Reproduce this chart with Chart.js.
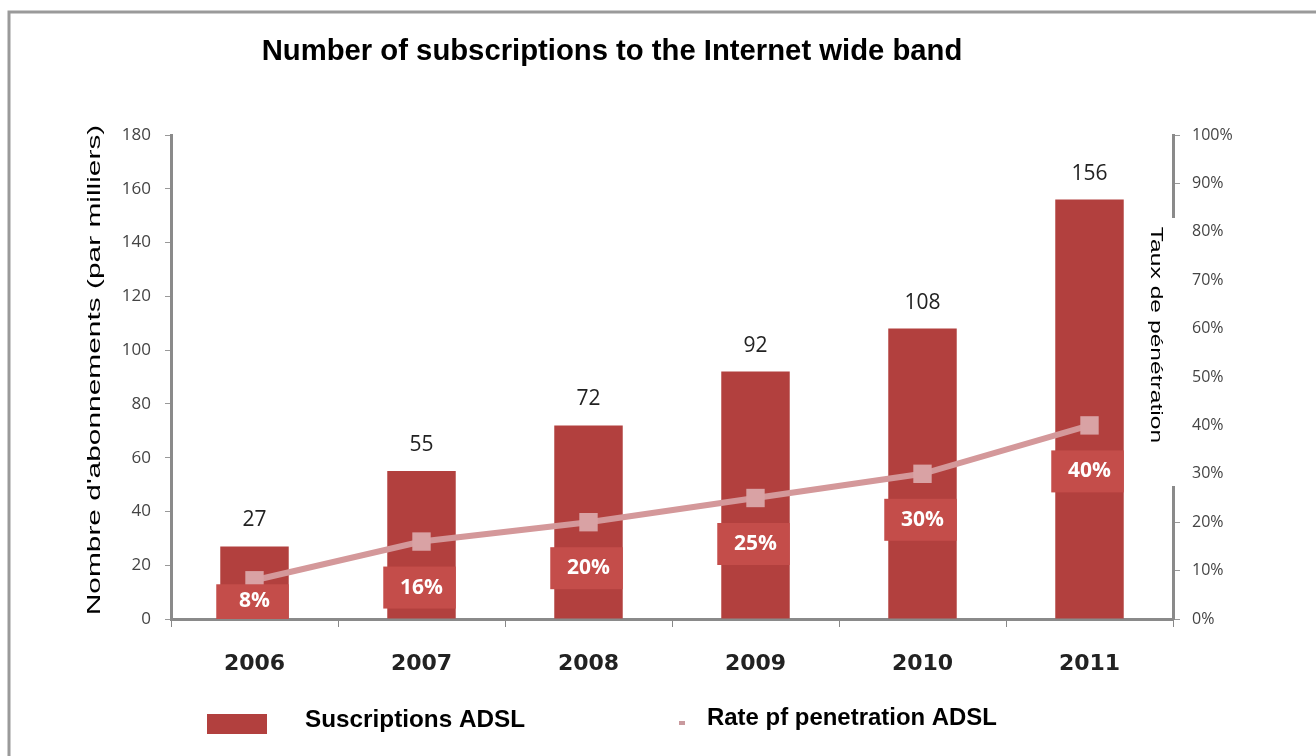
<!DOCTYPE html>
<html>
<head>
<meta charset="utf-8">
<script src="https://cdn.jsdelivr.net/npm/chart.js@4.4.1/dist/chart.umd.min.js"></script>
<style>
html,body{margin:0;padding:0;background:#fff;}
#wrap{position:relative;width:1316px;height:756px;}
</style>
</head>
<body>
<div id="wrap"><canvas id="c" width="1316" height="756"></canvas></div>
<script>
const categories = ['2006','2007','2008','2009','2010','2011'];
const subscriptions = [27, 55, 72, 92, 108, 156];
const penetration = [8, 16, 20, 25, 30, 40];
const leftTicks = [0,20,40,60,80,100,120,140,160,180];
const rightTicks = [0,10,20,30,40,50,60,70,80,90,100];
const titleText = 'Number of subscriptions to the Internet wide band';
const leftTitle = "Nombre d'abonnements (par milliers)";
const rightTitle = 'Taux de pénétration';
const legendBar = 'Suscriptions ADSL';
const legendLine = 'Rate pf penetration ADSL';

const BAR = '#b2403e';
const BOX = '#c44d4a';
const LINE = '#d4989a';
const MARK = '#d9a2a4';

function stretchedText(ctx, text, x, y, font, sx, sy, rot, align, color){
  ctx.save();
  ctx.translate(x, y);
  if (rot) ctx.rotate(rot);
  ctx.scale(sx, sy);
  ctx.font = font;
  ctx.fillStyle = color;
  ctx.textAlign = align || 'center';
  ctx.textBaseline = 'middle';
  ctx.fillText(text, 0, 0);
  ctx.restore();
}

const decor = {
  id: 'decor',
  beforeDraw(chart){
    const ctx = chart.ctx;
    ctx.save();
    ctx.fillStyle = '#fff';
    ctx.fillRect(0,0,chart.width,chart.height);
    ctx.strokeStyle = '#9a9a9a';
    ctx.lineWidth = 3;
    ctx.beginPath();
    ctx.moveTo(9, chart.height);
    ctx.lineTo(9, 12);
    ctx.lineTo(chart.width, 12);
    ctx.stroke();
    ctx.restore();
  },
  afterDatasetsDraw(chart){
    const ctx = chart.ctx;
    const barMeta = chart.getDatasetMeta(0);
    const lineMeta = chart.getDatasetMeta(1);
    const base = chart.scales.y.getPixelForValue(0);
    ctx.save();
    barMeta.data.forEach((bar, i) => {
      ctx.font = '21px "Open Sans"';
      ctx.fillStyle = '#222';
      ctx.textAlign = 'center';
      ctx.textBaseline = 'middle';
      ctx.fillText(String(subscriptions[i]), bar.x, bar.y - 26);
    });
    lineMeta.data.forEach((pt, i) => {
      const bar = barMeta.data[i];
      const ty = Math.min(pt.y + 46, base - 18);
      const w = bar.width + 4;
      const top = Math.max(ty - 21, pt.y + 4);
      const bottom = Math.min(ty + 21, base);
      ctx.fillStyle = BOX;
      ctx.fillRect(bar.x - w/2 - 2, top, w, bottom - top);
      ctx.font = 'bold 21px "Open Sans"';
      ctx.fillStyle = '#fff';
      ctx.textAlign = 'center';
      ctx.textBaseline = 'middle';
      ctx.fillText(penetration[i] + '%', bar.x, ty);
    });
    ctx.restore();
  },
  afterDraw(chart){
    const ctx = chart.ctx;
    const ca = chart.chartArea;
    stretchedText(ctx, titleText, 612, 52, 'bold 22px "Liberation Sans"', 1.33, 1.3, 0, 'center', '#000');
    stretchedText(ctx, leftTitle, 95, 370, '18px "Liberation Sans"', 1.66, 1, -Math.PI/2, 'center', '#000');
    ctx.save();
    ctx.fillStyle = '#fff';
    ctx.fillRect(ca.right - 25, 218, 36, 268);
    ctx.restore();
    stretchedText(ctx, rightTitle, ca.right - 17, 335, '17px "Liberation Sans"', 1.45, 1, Math.PI/2, 'center', '#000');
    ctx.save();
    ctx.fillStyle = BAR;
    ctx.fillRect(207, 714, 60, 20);
    ctx.fillStyle = '#c99a9e';
    ctx.fillRect(679, 721, 6, 4);
    ctx.restore();
    stretchedText(ctx, legendBar, 305, 721, 'bold 18px "Liberation Sans"', 1.35, 1.3, 0, 'left', '#000');
    stretchedText(ctx, legendLine, 707, 719, 'bold 18px "Liberation Sans"', 1.33, 1.3, 0, 'left', '#000');
  }
};

new Chart(document.getElementById('c'), {
  data: {
    labels: categories,
    datasets: [
      {
        type: 'bar',
        label: legendBar,
        data: subscriptions,
        backgroundColor: BAR,
        yAxisID: 'y',
        barPercentage: 0.41,
        categoryPercentage: 1,
        order: 2
      },
      {
        type: 'line',
        label: legendLine,
        data: penetration,
        yAxisID: 'y1',
        borderColor: LINE,
        borderWidth: 6,
        pointStyle: 'rect',
        pointRadius: 13,
        pointBackgroundColor: MARK,
        pointBorderWidth: 0,
        tension: 0,
        order: 1
      }
    ]
  },
  options: {
    responsive: false,
    animation: false,
    layout: { padding: { top: 135, left: 0, right: 0, bottom: 0 } },
    plugins: { legend: { display: false }, title: { display: false }, tooltip: { enabled: false } },
    scales: {
      x: {
        afterFit(s){ s.height = 137; },
        grid: { offset: true, drawOnChartArea: false, tickLength: 8, color: '#888', lineWidth: 1 },
        border: { color: '#8a8a8a', width: 3 },
        ticks: { font: { family: 'DejaVu Sans', weight: 'bold', size: 22 }, color: '#222', padding: 24 }
      },
      y: {
        position: 'left',
        min: 0, max: 180,
        afterFit(s){ s.width = 171; },
        afterBuildTicks(s){ s.ticks = leftTicks.map(v => ({ value: v })); },
        grid: { drawOnChartArea: false, tickLength: 6, color: '#999' },
        border: { color: '#8a8a8a', width: 3 },
        ticks: { font: { family: 'Open Sans', size: 17 }, color: '#444', padding: 14 }
      },
      y1: {
        position: 'right',
        min: 0, max: 100,
        afterFit(s){ s.width = 143; },
        afterBuildTicks(s){ s.ticks = rightTicks.map(v => ({ value: v })); },
        grid: { drawOnChartArea: false, tickLength: 7, color: '#999' },
        border: { color: '#8a8a8a', width: 3 },
        ticks: { font: { family: 'Open Sans', size: 16 }, color: '#444', padding: 12, callback: v => v + '%' }
      }
    }
  },
  plugins: [decor]
});
</script>
</body>
</html>
